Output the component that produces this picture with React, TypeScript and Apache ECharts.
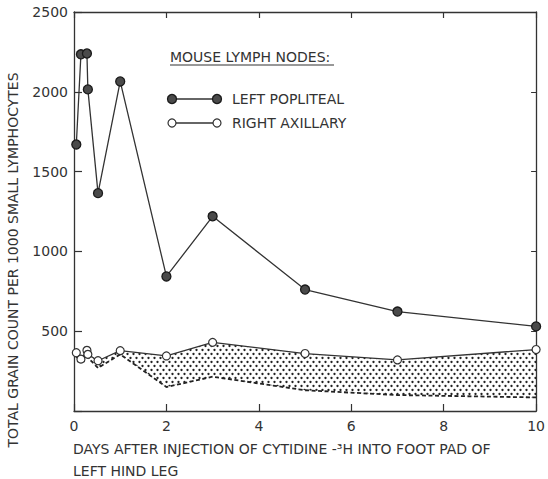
import React, { useEffect, useRef } from 'react';
import * as echarts from 'echarts';

// Time points (days) and values
const days = [0.05, 0.15, 0.28, 0.3, 0.52, 1, 2, 3, 5, 7, 10];
const leftPopliteal = [1670, 2235, 2240, 2015, 1365, 2065, 843, 1220, 761, 623, 530];
const rightAxillary = [365, 325, 380, 355, 315, 378, 345, 430, 360, 320, 385];
const lowerDays = [0.05, 0.15, 0.28, 0.52, 1, 2, 3, 5, 7, 10];
const lowerBound = [340, 310, 340, 270, 355, 150, 215, 130, 100, 85];

const legendTitle = 'MOUSE LYMPH NODES:';
const seriesNames = ['LEFT POPLITEAL', 'RIGHT AXILLARY'];
const yName = 'TOTAL GRAIN COUNT PER 1000 SMALL LYMPHOCYTES';
const xNameLines = ['DAYS AFTER INJECTION OF CYTIDINE -³H INTO FOOT PAD OF', 'LEFT HIND LEG'];

const INK = '#333333';
const FONT = '"DejaVu Sans", sans-serif';

export default function App() {
  const ref = useRef<HTMLDivElement>(null);

  useEffect(() => {
    if (!ref.current) return;
    const chart = echarts.init(ref.current, undefined, { renderer: 'svg' });

    const c = document.createElement('canvas');
    c.width = 6;
    c.height = 8;
    const ctx = c.getContext('2d');
    if (ctx) {
      ctx.fillStyle = '#222222';
      ctx.beginPath();
      ctx.arc(1.5, 2, 1.15, 0, Math.PI * 2);
      ctx.fill();
      ctx.beginPath();
      ctx.arc(4.5, 6, 1.15, 0, Math.PI * 2);
      ctx.fill();
    }

    const axisLine = { show: true, onZero: false, lineStyle: { color: INK, width: 1.3 } };

    const option: any = {
      animation: false,
      backgroundColor: '#ffffff',
      textStyle: { fontFamily: FONT },
      grid: { left: 74, right: 5, top: 12, bottom: 68 },
      xAxis: [
        {
          type: 'value',
          min: 0,
          max: 10,
          interval: 2,
          position: 'bottom',
          axisLine,
          splitLine: { show: false },
          axisTick: { show: true, inside: true, length: 7, lineStyle: { color: INK, width: 1.2 } },
          axisLabel: { show: true, color: INK, fontSize: 14, fontFamily: FONT, margin: 8 },
        },
        {
          type: 'value',
          min: 0,
          max: 10,
          interval: 2,
          position: 'top',
          axisLine,
          splitLine: { show: false },
          axisTick: { show: true, inside: true, length: 6, lineStyle: { color: INK, width: 1.2 } },
          axisLabel: { show: false },
        },
      ],
      yAxis: [
        {
          type: 'value',
          min: 0,
          max: 2500,
          interval: 500,
          position: 'left',
          axisLine,
          splitLine: { show: false },
          axisTick: { show: true, inside: true, length: 8, lineStyle: { color: INK, width: 1.2 } },
          axisLabel: {
            show: true,
            color: INK,
            fontSize: 14,
            fontFamily: FONT,
            margin: 6,
            formatter: (v: number) => (v === 0 ? '' : String(v)),
          },
        },
        {
          type: 'value',
          min: 0,
          max: 2500,
          interval: 500,
          position: 'right',
          axisLine,
          splitLine: { show: false },
          axisTick: { show: true, inside: true, length: 5, lineStyle: { color: INK, width: 1 } },
          axisLabel: { show: false },
        },
      ],
      series: [
        {
          type: 'custom',
          name: 'range',
          silent: true,
          z: 1,
          data: [[0, 0]],
          renderItem: (params: any, api: any) => {
            if (params.dataIndex !== 0) return null;
            const pts: number[][] = [];
            for (let i = 0; i < days.length; i++) pts.push(api.coord([days[i], rightAxillary[i]]));
            for (let i = lowerDays.length - 1; i >= 0; i--) pts.push(api.coord([lowerDays[i], lowerBound[i]]));
            return {
              type: 'polygon',
              shape: { points: pts },
              style: { fill: { image: c, repeat: 'repeat' }, stroke: 'none' },
            };
          },
        },
        {
          type: 'line',
          name: 'lower',
          z: 2,
          silent: true,
          showSymbol: false,
          symbol: 'none',
          data: lowerDays.map((d, i) => [d, lowerBound[i]]),
          lineStyle: { color: '#222', width: 1.8, type: [4, 2.5] },
        },
        {
          type: 'line',
          name: seriesNames[1],
          z: 3,
          data: days.map((d, i) => [d, rightAxillary[i]]),
          symbol: 'circle',
          symbolSize: 8,
          lineStyle: { color: INK, width: 1.3 },
          itemStyle: { color: '#ffffff', borderColor: INK, borderWidth: 1.2 },
        },
        {
          type: 'line',
          name: seriesNames[0],
          z: 4,
          data: days.map((d, i) => [d, leftPopliteal[i]]),
          symbol: 'circle',
          symbolSize: 9,
          lineStyle: { color: INK, width: 1.3 },
          itemStyle: { color: '#4a4a4a', borderColor: '#1a1a1a', borderWidth: 1.3 },
        },
      ],
      graphic: [
        {
          type: 'text',
          x: 170,
          y: 57,
          style: { text: legendTitle, fill: INK, fontSize: 14, fontFamily: FONT, textAlign: 'left', textVerticalAlign: 'middle' },
        },
        { type: 'line', shape: { x1: 170, y1: 65, x2: 334, y2: 65 }, style: { stroke: INK, lineWidth: 1.1 } },
        { type: 'line', shape: { x1: 172, y1: 99, x2: 217, y2: 99 }, style: { stroke: INK, lineWidth: 1.3 } },
        { type: 'circle', shape: { cx: 172, cy: 99, r: 4.5 }, style: { fill: '#4a4a4a', stroke: '#1a1a1a', lineWidth: 1.3 } },
        { type: 'circle', shape: { cx: 217, cy: 99, r: 4.5 }, style: { fill: '#4a4a4a', stroke: '#1a1a1a', lineWidth: 1.3 } },
        {
          type: 'text',
          x: 232,
          y: 99,
          style: { text: seriesNames[0], fill: INK, fontSize: 14, fontFamily: FONT, textAlign: 'left', textVerticalAlign: 'middle' },
        },
        { type: 'line', shape: { x1: 172, y1: 123, x2: 217, y2: 123 }, style: { stroke: INK, lineWidth: 1.3 } },
        { type: 'circle', shape: { cx: 172, cy: 123, r: 4 }, style: { fill: '#ffffff', stroke: INK, lineWidth: 1.2 } },
        { type: 'circle', shape: { cx: 217, cy: 123, r: 4 }, style: { fill: '#ffffff', stroke: INK, lineWidth: 1.2 } },
        {
          type: 'text',
          x: 232,
          y: 123,
          style: { text: seriesNames[1], fill: INK, fontSize: 14, fontFamily: FONT, textAlign: 'left', textVerticalAlign: 'middle' },
        },
        {
          type: 'text',
          x: 13,
          y: 260,
          rotation: Math.PI / 2,
          style: { text: yName, fill: INK, fontSize: 14, fontFamily: FONT, textAlign: 'center', textVerticalAlign: 'middle' },
        },
        {
          type: 'text',
          x: 73,
          y: 449,
          style: { text: xNameLines[0], fill: INK, fontSize: 14, fontFamily: FONT, textAlign: 'left', textVerticalAlign: 'middle' },
        },
        {
          type: 'text',
          x: 73,
          y: 471,
          style: { text: xNameLines[1], fill: INK, fontSize: 14, fontFamily: FONT, textAlign: 'left', textVerticalAlign: 'middle' },
        },
      ],
    };

    chart.setOption(option);
    return () => chart.dispose();
  }, []);

  return <div ref={ref} style={{ position: 'fixed', left: 0, top: 0, width: 548, height: 479 }} />;
}
